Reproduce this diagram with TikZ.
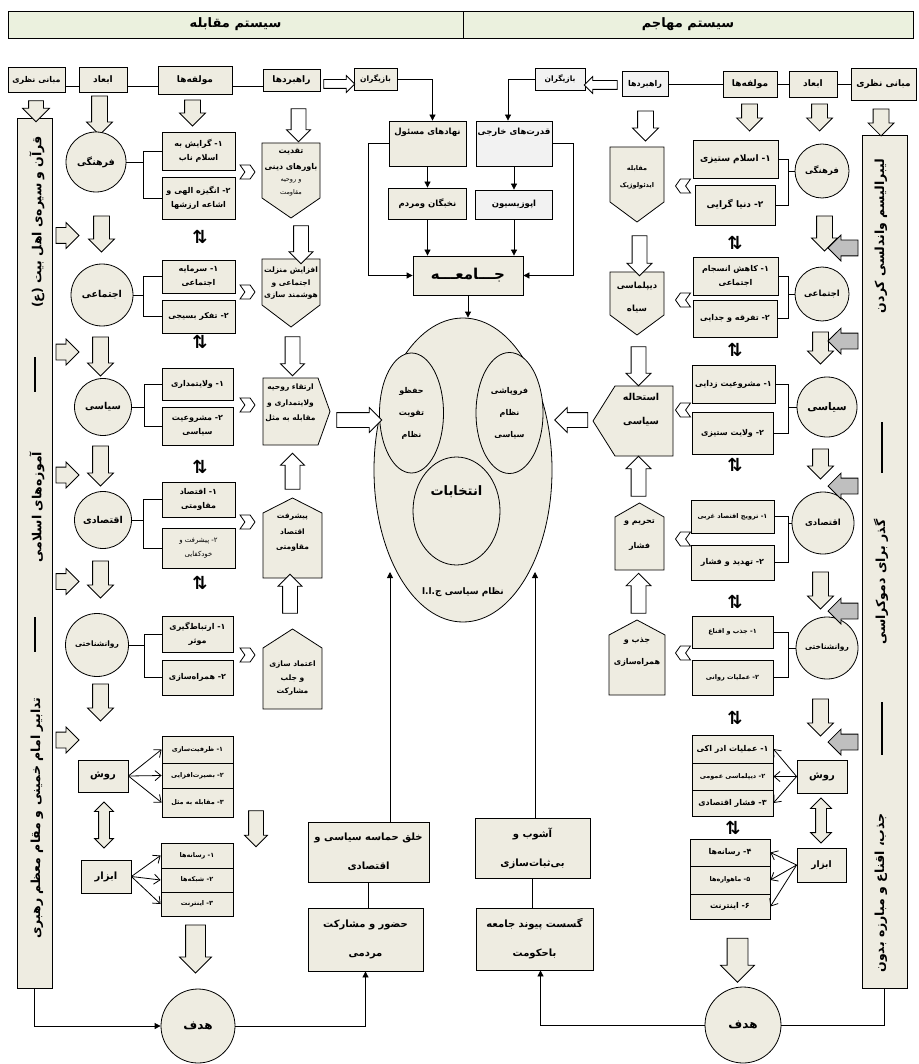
\documentclass[tikz,border=0pt]{standalone}
\usepackage{fontspec}
\setmainfont[Script=Arabic]{DejaVu Sans}
\TeXXeTstate=1
\usetikzlibrary{shapes.geometric,shapes.arrows,shapes.symbols,arrows.meta}

\definecolor{beige}{HTML}{EEECE1}
\definecolor{pale}{HTML}{F2F2F2}
\definecolor{headgreen}{HTML}{EBF1DE}
\definecolor{shade}{HTML}{BFBFBF}
\newcommand{\fa}[1]{\beginR#1\endR}

\tikzset{
  box/.style={rectangle, draw, fill=beige, align=center, inner sep=1pt},
  head/.style={box, font=\fontsize{9}{11}\selectfont\bfseries},
  comp/.style={box, minimum width=73, font=\fontsize{8}{14}\selectfont\bfseries},
  rcomp/.style={comp, minimum width=83},
  small/.style={font=\fontsize{6.5}{11}\selectfont\bfseries},
  circ/.style={circle, draw, fill=beige, inner sep=0pt, align=center, font=\fontsize{9.5}{11}\selectfont\bfseries},
  stratshape/.style={draw, fill=beige},
  stext/.style={align=center, inner sep=0pt, font=\fontsize{7.5}{15.5}\selectfont\bfseries},
  chev/.style={signal, draw, fill=white, inner sep=0pt, minimum width=15, minimum height=14, signal pointer angle=110},
  blockarrow/.style={single arrow, draw, fill=beige, inner xsep=0pt, inner ysep=7.5, single arrow head extend=5, minimum height=#1},
  pointdown/.style={rotate=-90},
  pointup/.style={rotate=90},
  pointleft/.style={rotate=180},
  bigbox/.style={box, font=\fontsize{10}{29}\selectfont\bfseries},
  vtext/.style={rotate=90, inner sep=0pt, font=\fontsize{12.5}{14}\selectfont\bfseries},
  swapmark/.style={inner sep=0pt, font=\fontsize{18}{18}\selectfont\bfseries},
  dashmark/.style={line width=1.6pt},
  link/.style={-{Triangle[length=6pt,width=6pt]}},
  barb/.style={-{Straight Barb[length=6pt,width=10pt]}}
}

\begin{document}
\begin{tikzpicture}[x=1pt,y=-1pt,line width=0.8pt]
\useasboundingbox (0,0) rectangle (918,1064);

% header
\node (hleft) [head, fill=headgreen, minimum width=455, minimum height=27, font=\fontsize{13}{15}\selectfont\bfseries] at (235.5,24.5) {\fa{سیستم مقابله}};
\node (hright) [head, fill=headgreen, minimum width=450, minimum height=27, font=\fontsize{13}{15}\selectfont\bfseries] at (688,24.5) {\fa{سیستم مهاجم}};

% top row, left
\node (lmab) [head, minimum width=57, minimum height=25, font=\fontsize{8}{10}\selectfont\bfseries] at (36.5,80) {\fa{مبانی نظری}};
\node (lab) [head, minimum width=48, minimum height=25] at (103,80) {\fa{ابعاد}};
\node (lmol) [head, minimum width=74, minimum height=28] at (195,80) {\fa{مولفه‌ها}};
\node (lrah) [head, minimum width=57, minimum height=22] at (291.5,80) {\fa{راهبردها}};
\node (lbaz) [head, minimum width=43, minimum height=22, font=\fontsize{7.5}{9}\selectfont\bfseries] at (375.5,79) {\fa{بازیگران}};
\draw ([yshift=-6pt]lmab.east) -- ([yshift=-6pt]lab.west)
      ([yshift=-6pt]lab.east) -- ([yshift=-6pt]lmol.west)
      ([yshift=-6pt]lmol.east) -- ([yshift=-6pt]lrah.west);
\node (alrah) [blockarrow=31, fill=white, inner ysep=4, single arrow head extend=4] at (337,84) {};

% top row, right
\node (rrah) [head, fill=pale, minimum width=46, minimum height=25, font=\fontsize{8}{10}\selectfont\bfseries] at (645,84) {\fa{راهبردها}};
\node (rmol) [head, minimum width=54, minimum height=26] at (750,84) {\fa{مولفه‌ها}};
\node (rab) [head, minimum width=48, minimum height=26] at (813,84) {\fa{ابعاد}};
\node (rmab) [head, minimum width=65, minimum height=32] at (883.5,84) {\fa{مبانی نظری}};
\node (rbaz) [head, fill=pale, minimum width=50, minimum height=22, font=\fontsize{7.5}{9}\selectfont\bfseries] at (560,79) {\fa{بازیگران}};
\draw (rrah) -- (rmol) -- (rab) -- (rmab);
\node (arrah) [blockarrow=33, fill=white, inner ysep=4, single arrow head extend=4, pointleft] at (603,85) {};

% actors and society
\node (nah) [head, minimum width=77, minimum height=45, font=\fontsize{8.5}{10}\selectfont\bfseries] at (427.5,143.5) {\fa{نهادهای مسئول}\\[14pt]\mbox{}};
\node (qod) [head, fill=pale, minimum width=76, minimum height=45, font=\fontsize{8.5}{10}\selectfont\bfseries] at (514,143.5) {\fa{قدرت‌های خارجی}\\[14pt]\mbox{}};
\node (nok) [head, minimum width=78, minimum height=31, font=\fontsize{8.5}{10}\selectfont\bfseries] at (427.5,203.5) {\fa{نخبگان ومردم}};
\node (opo) [head, fill=pale, minimum width=77, minimum height=29, font=\fontsize{8.5}{10}\selectfont\bfseries] at (514,204.5) {\fa{اپوزیسیون}};
\node (jam) [head, minimum width=110, minimum height=39, font=\fontsize{15}{17}\selectfont\bfseries] at (468,275.5) {\fa{جـــامعـــه}};
\draw[link] (lbaz.east) -| ([xshift=5pt]nah.north);
\draw[link] (rbaz.west) -| ([xshift=-6pt]qod.north);
\draw[link] (nah) -- (nok);
\draw[link] (qod) -- (opo);
\draw[link] (nok.south) -- (nok.south |- jam.north);
\draw[link] (opo.south) -- (opo.south |- jam.north);
\draw[link] (nah.west) -- ++(-20,0) |- (jam.west);
\draw[link] (qod.east) -- ++(21,0) |- (jam.east);

% political system
\node (ell) [ellipse, draw, fill=beige, minimum width=178, minimum height=304] at (463,470) {};
\node (ekeep) [ellipse, draw, fill=beige, minimum width=64, minimum height=120, align=center, font=\fontsize{8}{22}\selectfont\bfseries] at (411.5,413) {\fa{حفظو}\\\fa{تقویت}\\\fa{نظام}};
\node (efall) [ellipse, draw, fill=beige, minimum width=67, minimum height=121, align=center, font=\fontsize{8}{22}\selectfont\bfseries] at (509.5,413) {\fa{فروپاشی}\\\fa{نظام}\\\fa{سیاسی}};
\node (elect) [ellipse, draw, fill=beige, minimum width=87, minimum height=108, align=center, font=\fontsize{13}{15}\selectfont\bfseries] at (456.5,511) {\fa{انتخابات}\\[26pt]\mbox{}};
\node (etxt) [font=\fontsize{9}{11}\selectfont\bfseries] at (463,592) {\fa{نظام سیاسی ج.ا.ا}};
\draw[link] (jam.south) -- (jam.south |- ell.north);
\node (ainl) [blockarrow=45, fill=white, inner ysep=7] at (355.5,420) {};
\node (ainr) [blockarrow=33, fill=white, inner ysep=7, pointleft] at (575,420) {};

% bottom
\coordinate (ltip) at (390,572);
\coordinate (rtip) at (535,572);
\node (khal) [bigbox, minimum width=121, minimum height=60] at (368.5,852) {\fa{خلق حماسه سیاسی و}\\\fa{اقتصادی}};
\node (hoz) [bigbox, minimum width=115, minimum height=63] at (365.5,939.5) {\fa{حضور و مشارکت}\\\fa{مردمی}};
\node (ashub) [bigbox, minimum width=115, minimum height=60] at (532.5,848) {\fa{آشوب و}\\\fa{بی‌ثبات‌سازی}};
\node (gos) [bigbox, minimum width=117, minimum height=62] at (534.5,939) {\fa{گسست پیوند جامعه}\\\fa{باحکومت}};
\draw[link] (khal.north -| ltip) -- (ltip);
\draw[link] (ashub.north -| rtip) -- (rtip);
\draw (khal.south) -- (khal.south |- hoz.north);
\draw (ashub.south) -- (ashub.south |- gos.north);
\node (lgoal) [circ, minimum size=74, font=\fontsize{12}{14}\selectfont\bfseries] at (198,1026) {\fa{هدف}};
\node (rgoal) [circ, minimum size=76, font=\fontsize{12}{14}\selectfont\bfseries] at (743,1025) {\fa{هدف}};

% side columns
\node (lvert) [box, minimum width=35, minimum height=870] at (34.5,553) {};
\node (rvert) [box, minimum width=45, minimum height=853] at (884.5,561.5) {};
\node (lv1) [vtext] at (37,222) {\fa{قرآن و سیره‌ی اهل بیت (ع)}};
\node (lv2) [vtext] at (37,507) {\fa{آموزه‌های اسلامی}};
\node (lv3) [vtext] at (37,818) {\fa{تدابیر امام خمینی و مقام معظم رهبری}};
\draw[dashmark] (35,357) -- (35,392);
\draw[dashmark] (35,617) -- (35,652);
\node (rv1) [vtext] at (881,236) {\fa{لیبرالیسم واندلسی کردن}};
\node (rv2) [vtext] at (881,582) {\fa{گذر برای دموکراسی}};
\node (rv3) [vtext] at (881,893) {\fa{جذب، اقناع و مبارزه بدون}};
\draw[dashmark] (882,422) -- (882,473);
\draw[dashmark] (882,702) -- (882,755);
\draw[link] (lvert.south) |- (lgoal.west);
\draw[link] (lgoal.east) -| (hoz.south);
\draw[link] (rgoal.west) -| ([xshift=6pt]gos.south);
\draw (rvert.south) |- (rgoal.east);

% left: dimensions
\node (amab) [blockarrow=21, inner ysep=7, single arrow head extend=6, pointdown] at (36,107.5) {};
\node (aab) [blockarrow=39, pointdown] at (99.5,111.5) {};
\node (amol) [blockarrow=26, pointdown] at (192.5,109) {};
\node (arah) [blockarrow=33, fill=white, inner ysep=7, single arrow head extend=4.5, pointdown] at (298.5,121.5) {};
\node (lc1) [circ, minimum size=60] at (96,162) {\fa{فرهنگی}};
\node (lc2) [circ, minimum size=62] at (102,295) {\fa{اجتماعی}};
\node (lc3) [circ, minimum size=57] at (103,407) {\fa{سیاسی}};
\node (lc4) [circ, minimum size=57] at (103,520) {\fa{اقتصادی}};
\node (lc5) [circ, minimum size=63, font=\fontsize{7.5}{9}\selectfont\bfseries] at (97,645) {\fa{روانشناختی}};
\node (alc12) [blockarrow=36, pointdown] at (101.5,230) {};
\node (alc23) [blockarrow=39, pointdown] at (100.5,352.5) {};
\node (alc34) [blockarrow=40, pointdown] at (100.5,462) {};
\node (alc45) [blockarrow=37, pointdown] at (100.5,575.5) {};
\node (alc56) [blockarrow=37, pointdown] at (100.5,698.5) {};
\foreach \y [count=\i] in {235.5,352,475,581.5,740}
  \node (alv\i) [blockarrow=23] at (63.5,\y) {};

% left: components
\node (lf1) [comp, minimum height=38] at (198.5,151) {\fa{۱- گرایش به}\\\fa{اسلام ناب}};
\node (lf2) [comp, minimum height=42] at (198.5,198) {\fa{۲- انگیزه الهی و}\\\fa{اشاعه ارزشها}};
\node (le1) [comp, minimum height=33] at (198.5,276.5) {\fa{۱- سرمایه}\\\fa{اجتماعی}};
\node (le2) [comp, minimum height=33] at (198.5,316.5) {\fa{۲- تفکر بسیجی}};
\node (ls1) [comp, minimum width=71, minimum height=32] at (197.5,384) {\fa{۱- ولایتمداری}};
\node (ls2) [comp, minimum width=71, minimum height=38] at (197.5,426) {\fa{۲- مشروعیت}\\\fa{سیاسی}};
\node (lq1) [comp, minimum height=35] at (198.5,499.5) {\fa{۱- اقتصاد}\\\fa{مقاومتی}};
\node (lq2) [comp, minimum height=40, font=\fontsize{7}{14}\selectfont] at (198.5,548) {\fa{۲- پیشرفت و}\\\fa{خودکفایی}};
\node (lr1) [comp, minimum width=71, minimum height=36] at (197.5,634) {\fa{۱- ارتباط‌گیری}\\\fa{موثر}};
\node (lr2) [comp, minimum width=71, minimum height=35] at (197.5,677.5) {\fa{۲- همراه‌سازی}};
\draw (lf1.west) -- ++(-18,0) coordinate (lb1) |- (lf2.west);
\draw (lc1.east) -- (lc1.east -| lb1);
\draw (le1.west) -- ++(-18,0) coordinate (lb2) |- (le2.west);
\draw (lc2.east) -- (lc2.east -| lb2);
\draw (ls1.west) -- ++(-17,0) coordinate (lb3) |- (ls2.west);
\draw (lc3.east) -- (lc3.east -| lb3);
\draw (lq1.west) -- ++(-18,0) coordinate (lb4) |- (lq2.west);
\draw (lc4.east) -- (lc4.east -| lb4);
\draw (lr1.west) -- ++(-17,0) coordinate (lb5) |- (lr2.west);
\draw (lc5.east) -- (lc5.east -| lb5);
\foreach \y [count=\i] in {172,292,405,522,655}
  \node (lch\i) [chev, signal from=west, signal to=east] at (247.5,\y) {};
\foreach \y [count=\i] in {237,342,467,583}
  \node (lsw\i) [swapmark] at (200,\y) {⇅};

% left: strategies
\path[stratshape] (262,143) -- (320,143) -- (320,198) -- (291,218) -- (262,198) -- cycle;
\path[stratshape] (262,259) -- (320,259) -- (320,305) -- (291,327) -- (262,305) -- cycle;
\path[stratshape] (263,378) -- (318,378) -- (330,411.5) -- (318,445) -- (263,445) -- cycle;
\path[stratshape] (292.5,498) -- (322,513) -- (322,578) -- (263,578) -- (263,513) -- cycle;
\path[stratshape] (292.5,629) -- (322,648) -- (322,709) -- (263,709) -- (263,648) -- cycle;
\node (lst1) [stext, font=\fontsize{8}{16}\selectfont\bfseries] at (291,172) {\fa{تقدیت}\\\fa{باورهای دینی}\\[-4pt]{\fontsize{6.5}{12}\selectfont\mdseries\fa{و روحیه}}\\[-3pt]{\fontsize{6.5}{12}\selectfont\mdseries\fa{مقاومت}}};
\node (lst2) [stext] at (291,283) {\fa{افزایش منزلت}\\[-2pt]\fa{اجتماعی و}\\[-4pt]\fa{هوشمند سازی}};
\node (lst3) [stext] at (290.5,403) {\fa{ارتقاء روحیه}\\\fa{ولایتمداری و}\\\fa{مقابله به مثل}};
\node (lst4) [stext] at (292.5,533) {\fa{پیشرفت}\\\fa{اقتصاد}\\\fa{مقاومتی}};
\node (lst5) [stext] at (292.5,678) {\fa{اعتماد سازی}\\[-1pt]\fa{و جلب}\\[-3pt]\fa{مشارکت}};
\node (als12) [blockarrow=38, fill=white, inner ysep=7, single arrow head extend=4.5, pointdown] at (301,241) {};
\node (als23) [blockarrow=39, fill=white, inner ysep=7, single arrow head extend=4.5, pointdown] at (292.5,352.5) {};
\node (als43) [blockarrow=36, fill=white, inner ysep=7, single arrow head extend=4.5, pointup] at (292.5,475) {};
\node (als54) [blockarrow=39, fill=white, inner ysep=7, single arrow head extend=4.5, pointup] at (290,597.5) {};

% left: methods and tools
\node (lrav) [head, minimum width=50, minimum height=32, font=\fontsize{10}{12}\selectfont\bfseries] at (103,776) {\fa{روش}};
\node (lm1) [comp, minimum width=71, minimum height=27, small] at (197.5,749.5) {\fa{۱- ظرفیت‌سازی}};
\node (lm2) [comp, minimum width=71, minimum height=25, small] at (197.5,775.5) {\fa{۲- بصیرت‌افزایی}};
\node (lm3) [comp, minimum width=71, minimum height=29, small] at (197.5,802.5) {\fa{۳- مقابله به مثل}};
\draw[barb] (lrav.east) -- (lm1.west);
\draw[barb] (lrav.east) -- (lm2.west);
\draw[barb] (lrav.east) -- (lm3.west);
\node (ldbl) [double arrow, draw, fill=beige, inner xsep=0pt, inner ysep=5, double arrow head extend=4, minimum height=46, rotate=90] at (104,825) {};
\node (labz) [head, minimum width=50, minimum height=33, font=\fontsize{10}{12}\selectfont\bfseries] at (106,876.5) {\fa{ابزار}};
\node (li1) [comp, minimum width=72, minimum height=25, small] at (197,855.5) {\fa{۱- رسانه‌ها}};
\node (li2) [comp, minimum width=72, minimum height=24, small] at (197,880) {\fa{۲- شبکه‌ها}};
\node (li3) [comp, minimum width=72, minimum height=24, small] at (197,904) {\fa{۳- اینترنت}};
\draw[barb] (labz.east) -- (li1.west);
\draw[barb] (labz.east) -- (li2.west);
\draw[barb] (labz.east) -- (li3.west);
\node (alm) [blockarrow=36, inner ysep=7, single arrow head extend=4, pointdown] at (256,825) {};
\node (ali) [blockarrow=48, inner ysep=9.5, single arrow head extend=6, pointdown] at (195.5,944) {};

% right: dimensions
\node (brmab) [blockarrow=27, pointdown] at (881,118.5) {};
\node (brab) [blockarrow=27, pointdown] at (819.5,113.5) {};
\node (brmol) [blockarrow=27, pointdown] at (749.5,113.5) {};
\node (brrah) [blockarrow=30, fill=white, pointdown] at (645.5,122) {};
\node (rc1) [circ, minimum size=54, font=\fontsize{8.5}{10}\selectfont\bfseries] at (822,171) {\fa{فرهنگی}};
\node (rc2) [circ, minimum size=54, font=\fontsize{8.5}{10}\selectfont\bfseries] at (822,294) {\fa{اجتماعی}};
\node (rc3) [circ, minimum size=60, font=\fontsize{10.5}{12}\selectfont\bfseries] at (827,407) {\fa{سیاسی}};
\node (rc4) [circ, minimum size=62, font=\fontsize{8.5}{10}\selectfont\bfseries] at (823,523) {\fa{اقتصادی}};
\node (rc5) [circ, minimum size=62, font=\fontsize{7.5}{9}\selectfont\bfseries] at (827,648) {\fa{روانشناختی}};
\node (arc12) [blockarrow=35, pointdown] at (824.5,229.5) {};
\node (arc23) [blockarrow=32, pointdown] at (820.5,344) {};
\node (arc34) [blockarrow=30, pointdown] at (820.5,460) {};
\node (arc45) [blockarrow=37, pointdown] at (820.5,586.5) {};
\node (arc56) [blockarrow=37, pointdown] at (820.5,713.5) {};
\foreach \y [count=\i] in {248,341,486,611,742}
  \node (grv\i) [blockarrow=30, fill=shade, pointleft] at (847,\y) {};

% right: components
\node (rf1) [rcomp, minimum width=85, minimum height=38, font=\fontsize{9}{14}\selectfont\bfseries] at (735.5,159) {\fa{۱- اسلام ستیزی}};
\node (rf2) [rcomp, minimum width=80, minimum height=40, font=\fontsize{9}{14}\selectfont\bfseries] at (735,205) {\fa{۲- دنیا گرایی}};
\node (re1) [rcomp, minimum width=85, minimum height=38] at (735.5,276) {\fa{۱- کاهش انسجام}\\\fa{اجتماعی}};
\node (re2) [rcomp, minimum width=84, minimum height=37] at (735,318.5) {\fa{۲- تفرقه و جدایی}};
\node (rs1) [rcomp, minimum height=38] at (733.5,384) {\fa{۱- مشروعیت زدایی}};
\node (rs2) [rcomp, minimum width=81, minimum height=42] at (732.5,433) {\fa{۲- ولایت ستیزی}};
\node (rq1) [rcomp, minimum height=33, small] at (732.5,516.5) {\fa{۱- ترویج اقتصاد غربی}};
\node (rq2) [rcomp, minimum height=35] at (732.5,562.5) {\fa{۲- تهدید و فشار}};
\node (rr1) [rcomp, minimum width=81, minimum height=32, small] at (732.5,632) {\fa{۱- جذب و اقناع}};
\node (rr2) [rcomp, minimum width=81, minimum height=35, small] at (732.5,677.5) {\fa{۲- عملیات روانی}};
\draw (rf1.east) -- ++(10,0) coordinate (rb1) |- (rf2.east);
\draw (rc1.west) -- (rc1.west -| rb1);
\draw (re1.east) -- ++(10,0) coordinate (rb2) |- (re2.east);
\draw (rc2.west) -- (rc2.west -| rb2);
\draw (rs1.east) -- ++(13,0) coordinate (rb3) |- (rs2.east);
\draw (rc3.west) -- (rc3.west -| rb3);
\draw (rq1.east) -- ++(14,0) coordinate (rb4) |- (rq2.east);
\draw (rc4.west) -- (rc4.west -| rb4);
\draw (rr1.east) -- ++(15,0) coordinate (rb5) |- (rr2.east);
\draw (rc5.west) -- (rc5.west -| rb5);
\foreach \y [count=\i] in {186,300,410,539,653}
  \node (rch\i) [chev, signal from=east, signal to=west] at (683,\y) {};
\foreach \y [count=\i] in {243,350,465,602,718}
  \node (rsw\i) [swapmark] at (735,\y) {⇅};
\node (rsw6) [swapmark] at (733,828) {⇅};

% right: strategies
\path[stratshape] (610,147) -- (664,147) -- (664,202) -- (637,222) -- (610,202) -- cycle;
\path[stratshape] (610,272) -- (664,272) -- (664,315) -- (637,335) -- (610,315) -- cycle;
\path[stratshape] (593,421) -- (615,386) -- (673,386) -- (673,456) -- (615,456) -- cycle;
\path[stratshape] (639.5,503) -- (664,517) -- (664,570) -- (615,570) -- (615,517) -- cycle;
\path[stratshape] (637,620) -- (665,635) -- (665,695) -- (609,695) -- (609,635) -- cycle;
\node (rst1) [stext, font=\fontsize{6.5}{17}\selectfont\bfseries] at (637,177) {\fa{مقابله}\\\fa{ایدئولوژیک}};
\node (rst2) [stext, font=\fontsize{8.5}{23}\selectfont\bfseries] at (637,297) {\fa{دیپلماسی}\\\fa{سیاه}};
\node (rst3) [stext, font=\fontsize{9.5}{24}\selectfont\bfseries] at (641,410) {\fa{استحاله}\\\fa{سیاسی}};
\node (rst4) [stext, font=\fontsize{8}{25}\selectfont\bfseries] at (639.5,535) {\fa{تحریم و}\\\fa{فشار}};
\node (rst5) [stext, font=\fontsize{8}{22}\selectfont\bfseries] at (637,652) {\fa{جذب و}\\\fa{همراه‌سازی}};
\node (ars12) [blockarrow=40, fill=white, inner ysep=7, single arrow head extend=5, pointdown] at (639.5,252) {};
\node (ars23) [blockarrow=39, fill=white, inner ysep=7, single arrow head extend=5, pointdown] at (638.5,362.5) {};
\node (ars43) [blockarrow=40, fill=white, inner ysep=7, single arrow head extend=5, pointup] at (638.5,480) {};
\node (ars54) [blockarrow=40, fill=white, inner ysep=7, single arrow head extend=5, pointup] at (638.5,597) {};

% right: methods and tools
\node (rrav) [head, minimum width=50, minimum height=33, font=\fontsize{10}{12}\selectfont\bfseries] at (822,776.5) {\fa{روش}};
\node (rm1) [rcomp, minimum width=81, minimum height=28] at (732.5,749) {\fa{۱- عملیات ادر اکی}};
\node (rm2) [rcomp, minimum width=81, minimum height=27, small] at (732.5,776.5) {\fa{۲- دیپلماسی عمومی}};
\node (rm3) [rcomp, minimum width=81, minimum height=26] at (732.5,803) {\fa{۳- فشار اقتصادی}};
\draw[barb] (rrav.west) -- (rm1.east);
\draw[barb] (rrav.west) -- (rm2.east);
\draw[barb] (rrav.west) -- (rm3.east);
\node (rdbl) [double arrow, draw, fill=beige, inner xsep=0pt, inner ysep=5, double arrow head extend=5, minimum height=45, rotate=90] at (821,820.5) {};
\node (rabz) [head, minimum width=49, minimum height=34] at (821.5,865) {\fa{ابزار}};
\node (ri1) [rcomp, minimum width=80, minimum height=27] at (730,852.5) {\fa{۴- رسانه‌ها}};
\node (ri2) [rcomp, minimum width=80, minimum height=28, small] at (730,880) {\fa{۵- ماهواره‌ها}};
\node (ri3) [rcomp, minimum width=80, minimum height=25] at (730,906.5) {\fa{۶- اینترنت}};
\draw[barb] (rabz.west) -- (ri1.east);
\draw[barb] (rabz.west) -- (ri2.east);
\draw[barb] (rabz.west) -- (ri3.east);
\node (ari) [blockarrow=44, inner ysep=10, single arrow head extend=6.5, pointdown] at (737.5,955) {};

\end{tikzpicture}
\end{document}
